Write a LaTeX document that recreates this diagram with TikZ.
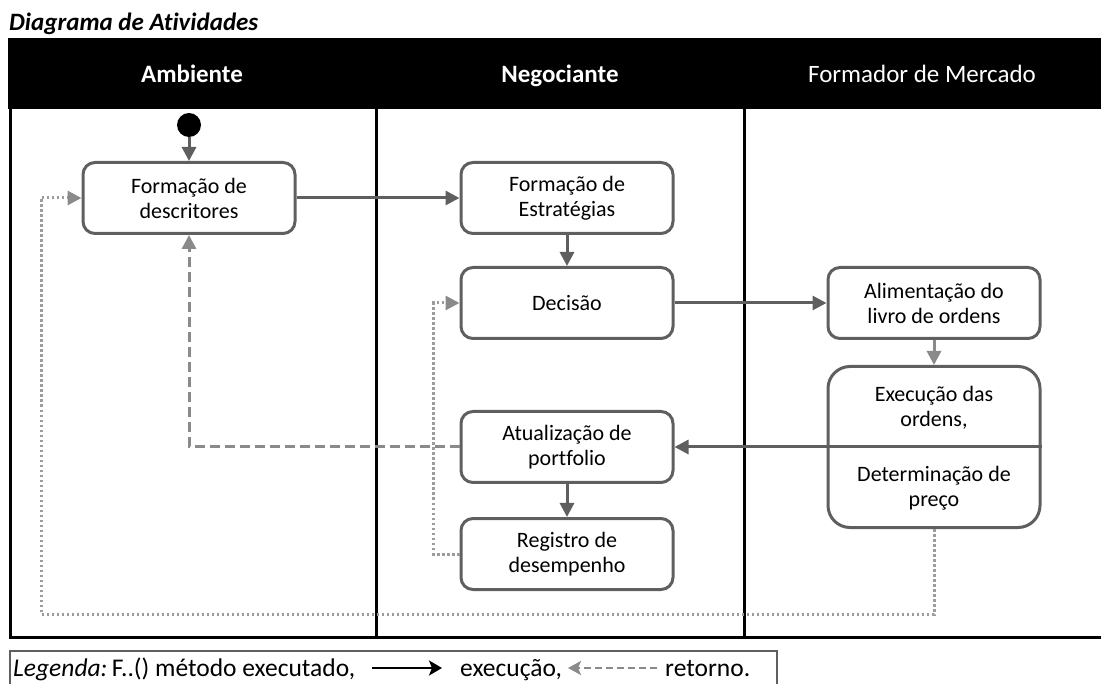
\documentclass[tikz,border=0pt]{standalone}
\usepackage{fontspec}
\setmainfont[Ligatures=NoCommon]{Carlito}
\usetikzlibrary{arrows.meta}
\definecolor{boxgray}{HTML}{5F5F5F}
\definecolor{retgray}{HTML}{8A8A8A}
\definecolor{dotgray}{HTML}{9C9C9C}
\begin{document}
\begin{tikzpicture}[x=1pt, y=-1pt,
    activity/.style={draw=boxgray, line width=3pt, rounded corners=12pt, minimum width=212pt, minimum height=71pt, inner sep=0pt, align=center, font=\fontsize{22}{25}\selectfont},
    lanehead/.style={text=white, anchor=base, font=\fontsize{25}{28}\selectfont},
    lane/.style={line width=3pt},
    flow/.style={draw=boxgray, line width=3pt, -{Triangle[length=14pt,width=14pt]}},
    back/.style={draw=retgray, line width=3pt, dash pattern=on 10pt off 5pt, -{Triangle[length=14pt,width=14pt]}},
    loop/.style={draw=dotgray, line width=3pt, dash pattern=on 2.5pt off 2.5pt, -{Triangle[length=14pt,width=14pt,color=retgray]}},
    legtext/.style={inner sep=0pt, anchor=base west, font=\fontsize{25.5}{28}\selectfont}]
    \useasboundingbox (0,0) rectangle (1101,684);
    \node[anchor=base west, inner sep=0pt, font=\fontsize{25}{28}\selectfont\bfseries\itshape] (title) at (9,31) {Diagrama de Atividades};
    % raias
    \fill[black] (8,38) rectangle (1101,109);
    \node[lanehead, font=\fontsize{25}{28}\selectfont\bfseries] (hamb) at (192,83) {Ambiente};
    \node[lanehead, font=\fontsize{25}{28}\selectfont\bfseries] (hneg) at (560,83) {Negociante};
    \node[lanehead] (hform) at (922,83) {Formador de Mercado};
    \draw[lane] (10,108) -- (10,637) -- (1101,637);
    \draw[lane] (376,108) -- (376,637);
    \draw[lane] (744,108) -- (744,637);
    % atividades
    \node[circle, fill=black, minimum size=24pt, inner sep=0pt] (start) at (189,125) {};
    \node[activity] (desc) at (189,198) {Formação de\\descritores};
    \node[activity] (estrat) at (567,198) {Formação de\\Estratégias};
    \node[activity] (decisao) at (567,303) {Decisão};
    \node[activity] (alim) at (934,303) {Alimentação do\\livro de ordens};
    \node[activity, minimum height=161pt, rounded corners=22pt] (exec) at (934,447) {};
    \node[activity, draw=none] (execup) at (934,408) {Execução das\\ordens,};
    \node[activity, draw=none] (execdown) at (934,488) {Determinação de\\preço};
    \node[activity] (atual) at (567,447) {Atualização de\\portfolio};
    \node[activity] (registro) at (567,554) {Registro de\\desempenho};
    \coordinate (retend) at (41,614);
    % fluxo
    \draw[flow] (start) -- (desc);
    \draw[flow] (desc) -- (estrat);
    \draw[flow] (estrat) -- (decisao);
    \draw[flow] (decisao) -- (alim);
    \draw[flow, draw=retgray] (alim) -- (exec);
    \draw[boxgray, line width=3pt] (exec.west) -- (exec.east);
    \draw[flow] (exec.west) -- (atual.east);
    \draw[flow] (atual) -- (registro);
    % retorno
    \draw[back] (atual.west) -| (desc.south);
    \draw[loop] (registro.west) -- ++(-26,0) |- (decisao.west);
    \draw[loop] (exec.south) |- (retend) |- (desc.west);
    % legenda
    \draw[boxgray, line width=1.5pt] (10,690) |- (777,651) -- (777,690);
    \node[legtext] (legA) at (13,676) {\textit{Legenda:}\,F..() método executado,};
    \node[legtext] (legB) at (460,676) {execução,};
    \node[legtext] (legC) at (665,676) {retorno.};
    \coordinate (execA) at (372,668);
    \coordinate (execB) at (442,668);
    \coordinate (retA) at (657,668);
    \coordinate (retB) at (568,668);
    \draw[black, line width=2.5pt, -{Stealth[length=13pt,width=15pt,inset=3pt]}] (execA) -- (execB);
    \draw[retgray, line width=2.5pt, dash pattern=on 7pt off 4pt, -{Stealth[length=13pt,width=14pt,inset=3pt]}] (retA) -- (retB);
\end{tikzpicture}
\end{document}
